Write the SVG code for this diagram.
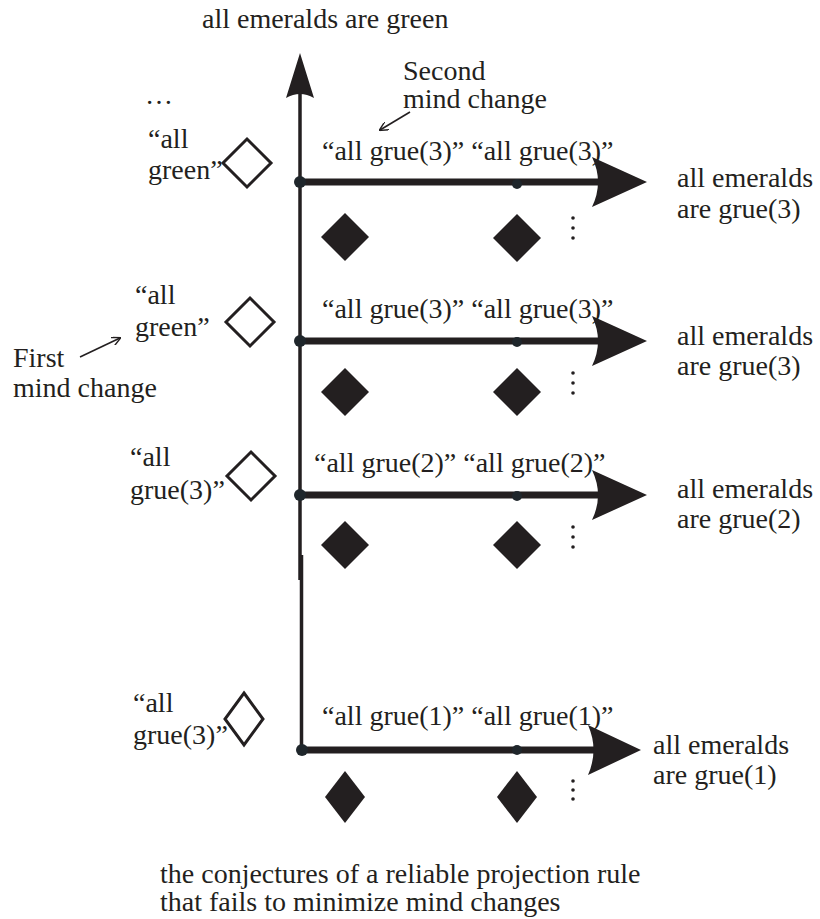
<svg xmlns="http://www.w3.org/2000/svg" width="820" height="919" viewBox="0 0 820 919">
<style>
text{font-family:"Liberation Serif","Times New Roman","DejaVu Serif",serif;font-size:28px;fill:#231f20}
.ax{stroke:#231f20;stroke-width:3.5;fill:none}
.hl{stroke:#231f20;stroke-width:7;fill:none}
.ah{fill:#231f20}
.dot{fill:#1f262b}
.od{fill:#fff;stroke:#231f20;stroke-width:3}
.fd{fill:#231f20}
.vd{fill:#231f20}
.thin{stroke:#231f20;stroke-width:1.6;fill:none}
</style>
<defs>
<marker id="sm" viewBox="0 0 10 10" refX="9" refY="5" markerWidth="9" markerHeight="9" orient="auto" markerUnits="userSpaceOnUse">
<path d="M0,0 L10,5 L0,10" fill="none" stroke="#231f20" stroke-width="1.6"/>
</marker>
</defs>
<rect width="820" height="919" fill="#fff"/>

<g id="title"><text x="202" y="28">all emeralds are green</text></g>

<g id="connectors">
<path class="ax" d="M300,88 V580"/>
<path class="ax" d="M301.5,555 V750"/>
<path class="ah" d="M300,53 L314,98 Q300,90 286,98 Z"/>
<path class="hl" d="M300,182 H600"/>
<path class="ah" d="M647,182 L592,207 Q604,182 592,157 Z"/>
<path class="hl" d="M300,341 H600"/>
<path class="ah" d="M647,341 L592,366 Q604,341 592,316 Z"/>
<path class="hl" d="M300,495 H600"/>
<path class="ah" d="M647,495 L592,520 Q604,495 592,470 Z"/>
<path class="hl" d="M302,750 H595"/>
<path class="ah" d="M641,750 L588,775 Q599,750 588,725 Z"/>
<path class="thin" d="M410,112 L380,130" marker-end="url(#sm)"/>
<path class="thin" d="M80,357 L120,338" marker-end="url(#sm)"/>
</g>

<g id="second-mind-change"><text x="403" y="80">Second</text><text x="403" y="108">mind change</text></g>
<g id="first-mind-change"><text x="13" y="367">First</text><text x="13" y="397">mind change</text></g>

<g id="row1">
<text x="145" y="104">…</text>
<text x="148" y="148">“all</text><text x="148" y="179">green”</text>
<path class="od" d="M247,139 L271,163 L247,187 L223,163 Z"/>
<circle class="dot" cx="300" cy="182" r="6"/>
<circle class="dot" cx="517" cy="184" r="5"/>
<text x="322" y="160">“all grue(3)” “all grue(3)”</text>
<path class="fd" d="M345,213 L369,237 L345,261 L321,237 Z"/>
<path class="fd" d="M517,214 L541,238 L517,262 L493,238 Z"/>
<circle class="vd" cx="573" cy="218" r="1.8"/><circle class="vd" cx="573" cy="228" r="1.8"/><circle class="vd" cx="573" cy="238" r="1.8"/>
<text x="677" y="187">all emeralds</text><text x="677" y="218">are grue(3)</text>
</g>

<g id="row2">
<text x="135" y="304">“all</text><text x="135" y="336">green”</text>
<path class="od" d="M250,298 L274,322 L250,346 L226,322 Z"/>
<circle class="dot" cx="300" cy="341" r="6"/>
<circle class="dot" cx="517" cy="342" r="5"/>
<text x="322" y="318">“all grue(3)” “all grue(3)”</text>
<path class="fd" d="M345,368 L369,392 L345,416 L321,392 Z"/>
<path class="fd" d="M517,368 L541,392 L517,416 L493,392 Z"/>
<circle class="vd" cx="573" cy="373" r="1.8"/><circle class="vd" cx="573" cy="383" r="1.8"/><circle class="vd" cx="573" cy="393" r="1.8"/>
<text x="677" y="345">all emeralds</text><text x="677" y="375">are grue(3)</text>
</g>

<g id="row3">
<text x="130" y="466">“all</text><text x="130" y="499">grue(3)”</text>
<path class="od" d="M251,452 L275,476 L251,500 L227,476 Z"/>
<circle class="dot" cx="300" cy="495" r="6"/>
<circle class="dot" cx="517" cy="496" r="5"/>
<text x="314" y="472">“all grue(2)” “all grue(2)”</text>
<path class="fd" d="M345,521 L369,545 L345,569 L321,545 Z"/>
<path class="fd" d="M517,521 L541,545 L517,569 L493,545 Z"/>
<circle class="vd" cx="573" cy="527" r="1.8"/><circle class="vd" cx="573" cy="537" r="1.8"/><circle class="vd" cx="573" cy="547" r="1.8"/>
<text x="677" y="498">all emeralds</text><text x="677" y="528">are grue(2)</text>
</g>

<g id="row4">
<text x="133" y="712">“all</text><text x="133" y="744">grue(3)”</text>
<path class="od" d="M244,693 L263,719 L244,745 L225,719 Z"/>
<circle class="dot" cx="302" cy="750" r="6"/>
<circle class="dot" cx="517" cy="750" r="5"/>
<text x="322" y="725">“all grue(1)” “all grue(1)”</text>
<path class="fd" d="M345,771 L365,797 L345,823 L325,797 Z"/>
<path class="fd" d="M517,771 L537,797 L517,823 L497,797 Z"/>
<circle class="vd" cx="573" cy="781" r="1.8"/><circle class="vd" cx="573" cy="790" r="1.8"/><circle class="vd" cx="573" cy="799" r="1.8"/>
<text x="653" y="754">all emeralds</text><text x="653" y="784">are grue(1)</text>
</g>

<g id="caption"><text x="160" y="883">the conjectures of a reliable projection rule</text><text x="160" y="911">that fails to minimize mind changes</text></g>
</svg>
